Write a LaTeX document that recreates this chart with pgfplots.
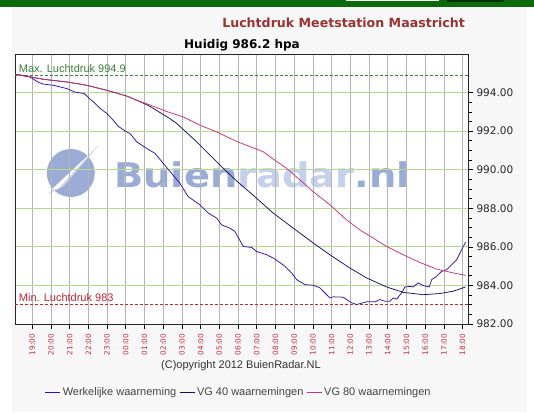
\documentclass[border=0pt]{standalone}
\usepackage{fontspec}
\setmainfont{Liberation Sans}
\newfontfamily\dejavu{DejaVu Sans}
\usepackage{pgfplots}
\pgfplotsset{compat=1.18}
\definecolor{actualc}{RGB}{51,17,170}
\definecolor{vgforty}{RGB}{20,16,106}
\definecolor{vgeighty}{RGB}{204,51,119}
\definecolor{gridx}{RGB}{180,180,180}
\definecolor{gridy}{RGB}{181,217,143}
\definecolor{maxgreen}{RGB}{60,130,60}
\definecolor{minred}{RGB}{204,34,51}
\definecolor{tickred}{RGB}{208,40,64}
\definecolor{titlered}{RGB}{153,51,51}
\definecolor{wmA}{RGB}{154,172,214}
\definecolor{wmB}{RGB}{197,209,234}
\definecolor{panel}{RGB}{247,247,247}
\definecolor{barg}{RGB}{11,107,11}
\definecolor{legtext}{RGB}{68,68,68}
\begin{document}
\begin{tikzpicture}
\path[use as bounding box, fill=white] (0,0) rectangle (534pt,-412pt);
\fill[panel] (12pt,-7pt) rectangle (527pt,-412pt);
\fill[barg] (0,0) rectangle (534pt,-7pt);
\fill[white] (346pt,0pt) rectangle (439pt,-1.5pt);
\fill[black!80!green] (447pt,0pt) rectangle (504pt,-2pt);
\fill[white] (15pt,-54pt) rectangle (468pt,-324pt);
% watermark
\fill[wmA] (70.8pt,-173pt) circle (24pt);
\fill[wmB] (48pt,-194pt) -- (99pt,-145pt) -- (64pt,-186pt) -- cycle;
\fill[white] (51pt,-190pt) -- (92pt,-152pt) -- (58pt,-189pt) -- cycle;
\node[anchor=base west, inner sep=0pt, xscale=1.13, transform shape, font=\dejavu\bfseries\fontsize{34}{36}\selectfont] at (114pt,-187pt) {\textcolor{wmA}{Buien}\textcolor{wmB}{radar}\textcolor{wmA}{.nl}};
% titles
\node[anchor=base east, inner sep=0pt, text=titlered, font=\dejavu\bfseries\fontsize{12.6}{14}\selectfont] at (465pt,-28pt) {Luchtdruk Meetstation Maastricht};
\node[anchor=base west, inner sep=0pt, text=black, font=\dejavu\bfseries\fontsize{12}{14}\selectfont] at (184pt,-48.6pt) {Huidig 986.2 hpa};
\node[anchor=center, inner sep=0pt, text=black!80, font=\fontsize{11}{13}\selectfont] at (241pt,-366pt) {(C)opyright 2012 BuienRadar.NL};
\begin{axis}[
  at={(15pt,-324pt)}, anchor=south west,
  scale only axis, width=453pt, height=270pt,
  xmin=-0.92, xmax=23.29, ymin=982, ymax=996,
  axis line style={black!85, line width=0.8pt},
  xtick={0,1,...,23},
  xticklabels={19:00,20:00,21:00,22:00,23:00,00:00,01:00,02:00,03:00,04:00,05:00,06:00,07:00,08:00,09:00,10:00,11:00,12:00,13:00,14:00,15:00,16:00,17:00,18:00},
  xtick pos=bottom, ytick pos=right, yticklabel pos=right,
  tick align=outside,
  major tick length=5pt, minor tick length=3.5pt,
  tick style={black, line width=0.6pt},
  ytick={982,984,...,994}, minor y tick num=3,
  xmajorgrids, ymajorgrids,
  x grid style={gridx, line width=0.7pt},
  y grid style={gridy, line width=0.9pt},
  yticklabel style={font=\dejavu\fontsize{10.5}{12}\selectfont, text=black!85,
    /pgf/number format/.cd, fixed, fixed zerofill, precision=2, 1000 sep={}, assume math mode=true},
  xticklabel style={rotate=90, anchor=east, xshift=-1.5pt, text=tickred, font=\dejavu\fontsize{7.3}{8}\selectfont},
  legend columns=3,
  legend style={at={(0.494,-0.252)}, anchor=center, draw=none, fill=none,
    font=\fontsize{11}{13}\selectfont, text=legtext,
    /tikz/every even column/.append style={column sep=1pt}},
  legend image code/.code={\draw[#1] (0pt,0pt) -- (15pt,0pt);},
]
\addplot[maxgreen, dashed, dash pattern=on 3pt off 2pt, line width=0.8pt, forget plot] coordinates {(-0.92,994.9) (23.29,994.9)};
\addplot[minred, dashed, dash pattern=on 3pt off 2pt, line width=0.8pt, forget plot] coordinates {(-0.92,983) (23.29,983)};
\node[anchor=base west, inner sep=0pt, yshift=3pt, text=maxgreen, font=\fontsize{11}{13}\selectfont] at (axis cs:-0.72,994.9) {Max. Luchtdruk 994.9};
\node[anchor=base west, inner sep=0pt, yshift=3pt, text=minred, font=\fontsize{11}{13}\selectfont] at (axis cs:-0.72,983) {Min. Luchtdruk 983};
\addplot[actualc, line width=0.75pt] coordinates {
(-0.88,994.95) (-0.1,994.8) (0.3,994.55) (0.59,994.44) (1.12,994.38) (1.84,994.21) (2.3,994.02) (2.78,993.95) (3.1,993.65) (3.3,993.5) (3.6,993.2) (3.98,992.92) (4.3,992.6) (4.6,992.25) (4.9,992.05) (5.25,991.85) (5.58,991.45) (6.11,991.11) (6.56,990.85) (7.0,990.33) (7.45,989.81) (7.89,989.30) (8.34,988.60) (8.96,988.18) (9.41,987.75) (9.86,987.49) (10.12,987.14) (10.57,986.97) (10.83,986.80) (11.28,986.02) (11.73,985.97) (11.99,985.76) (12.53,985.59) (12.97,985.37) (13.51,984.99) (13.86,984.65) (14.13,984.30) (14.58,984.04) (15.02,984.01) (15.38,983.87) (15.91,983.35) (16.09,983.41) (16.62,983.39) (17.07,983.10) (17.34,983.01) (17.87,983.15) (18.32,983.15) (18.58,983.27) (18.85,983.18) (19.12,983.18) (19.29,983.35) (19.48,983.30) (19.74,983.61) (19.92,983.92) (20.19,983.95) (20.36,983.92) (20.63,984.13) (20.9,983.99) (21.22,983.92) (21.35,984.30) (21.61,984.47) (21.88,984.73) (22.15,984.82) (22.5,985.16) (22.68,985.33) (22.95,985.85) (23.16,986.25)
};
\addlegendentry{Werkelijke waarneming}
\addplot[vgforty, line width=0.75pt] coordinates {
(-0.88,994.95) (0.59,994.69) (1.84,994.55) (2.91,994.38) (3.98,994.12) (5.05,993.82) (5.76,993.53) (6.29,993.29) (7.37,992.64) (7.72,992.40) (8.79,991.45) (9.86,990.41) (10.03,990.24) (10.92,989.42) (11.9,988.6) (12.88,987.75) (13.95,986.97) (15.02,986.2) (15.91,985.59) (16.98,984.90) (17.87,984.39) (18.94,983.92) (19.83,983.64) (20.9,983.52) (21.79,983.58) (22.5,983.70) (23.16,983.92)
};
\addlegendentry{VG 40 waarnemingen}
\addplot[vgeighty, line width=0.75pt] coordinates {
(-0.88,994.95) (0.59,994.69) (1.84,994.55) (2.91,994.38) (3.98,994.12) (5.05,993.82) (5.76,993.53) (6.29,993.36) (7.18,993.02) (8.07,992.74) (8.96,992.31) (9.86,991.96) (10.92,991.47) (12.35,990.93) (12.88,990.55) (13.6,990.07) (14.31,989.47) (15.02,988.86) (15.91,988.18) (16.8,987.40) (17.51,986.88) (18.23,986.45) (18.94,986.02) (19.83,985.59) (20.72,985.19) (21.61,984.85) (22.5,984.65) (23.16,984.52)
};
\addlegendentry{VG 80 waarnemingen}
\end{axis}
\end{tikzpicture}
\end{document}
